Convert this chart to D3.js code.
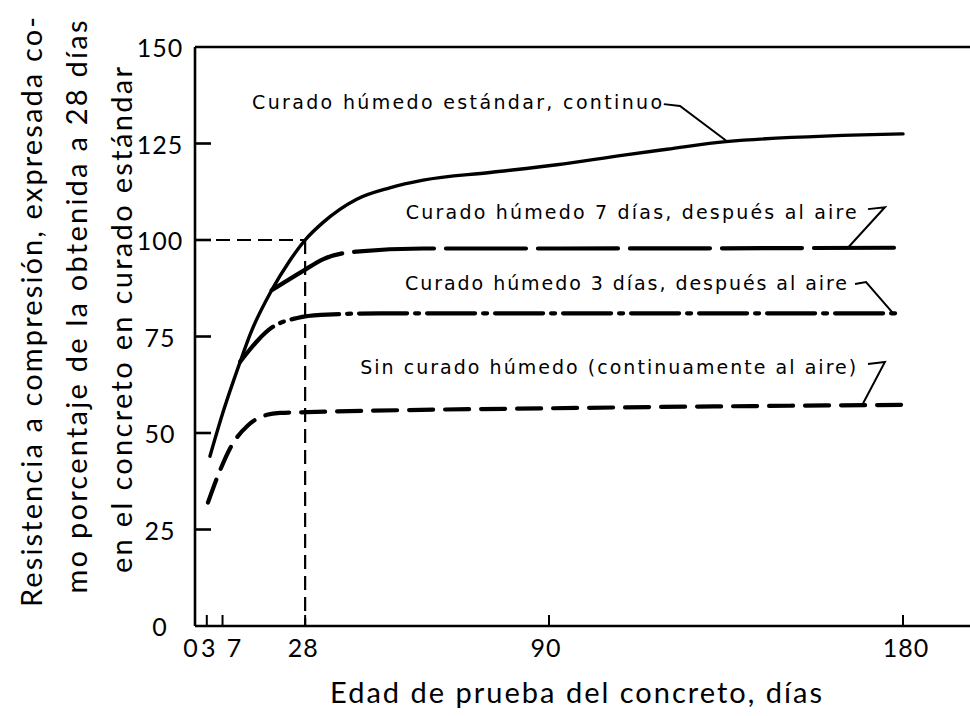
<!DOCTYPE html>
<html>
<head>
<meta charset="utf-8">
<script src="https://cdn.jsdelivr.net/npm/d3@7"></script>
<style>
  body { margin: 0; background: #fff; }
  svg { display: block; }
  text { font-family: "DejaVu Sans", sans-serif; fill: #000; }
  .light { font-family: Lato, "Open Sans", sans-serif; }
</style>
</head>
<body>
<svg id="chart" width="970" height="716"></svg>
<script>
// ---------------- data (age in days, % of 28-day standard strength) ----------------

var stdDays = [3.8, 7, 11.5, 14, 19.5, 24, 28, 32.5, 41, 49.5, 58, 75, 92, 109, 120, 135, 180];
var stdVals = [44, 55, 68.5, 75.5, 87, 94.5, 100, 104.5, 110.5, 113.5, 115.5, 117.5, 119.5, 122, 123.5, 125.5, 127.5];

var moist7Days = [19.5, 27.5, 32.5, 41, 58, 93, 180];
var moist7Vals = [87, 92, 95, 97, 97.8, 97.8, 98];

var moist3Days = [11.5, 19.8, 26, 32, 47, 93, 180];
var moist3Vals = [68.5, 77.5, 79.8, 80.6, 81, 81, 81];

var airDays = [3.3, 6.4, 8.9, 13.5, 18.3, 21.6, 28.5, 98, 180];
var airVals = [32, 40.4, 46, 52, 54.7, 55.2, 55.4, 56.5, 57.3];

var xTicks = [0, 3, 7, 28, 90, 180];
var yTicks = [0, 25, 50, 75, 100, 125, 150];

var refDay = 28;
var refVal = 100;

var seriesNames = [
  "Curado húmedo estándar, continuo",
  "Curado húmedo 7 días, después al aire",
  "Curado húmedo 3 días, después al aire",
  "Sin curado húmedo (continuamente al aire)"
];

var yTitle = [
  "Resistencia a compresión, expresada co-",
  "mo porcentaje de la obtenida a 28 días",
  "en el concreto en curado estándar"
];
var xTitle = "Edad de prueba del concreto, días";

// ---------------- layout ----------------

var width = 970;
var height = 716;
var svg = d3.select('#chart');

var x = d3.scaleLinear().domain([0, 180]).range([195, 903]);
var y = d3.scaleLinear().domain([0, 150]).range([626, 47]);

function pts(days, vals) {
  return days.map(function(d, i){ return [d, vals[i]]; });
}

var line = d3.line()
  .x(d => x(d[0]))
  .y(d => y(d[1]))
  .curve(d3.curveMonotoneX);

// frame: left axis, bottom axis, top border (no right border in the original)
var frame = svg.append('g')
  .attr('stroke', '#000')
  .attr('stroke-width', 2.6)
  .attr('fill', 'none');

frame.append('line').attr('x1', x(0)).attr('x2', x(0)).attr('y1', y(0)).attr('y2', y(150));
frame.append('line').attr('x1', x(0)).attr('x2', width).attr('y1', y(0)).attr('y2', y(0));
frame.append('line').attr('x1', x(0)).attr('x2', width).attr('y1', y(150)).attr('y2', y(150));

// inward ticks
frame.selectAll('.ytick')
  .data(yTicks.filter(v => v > 0 && v < 150))
  .enter().append('line')
    .attr('x1', x(0)).attr('x2', x(0) + 16)
    .attr('y1', d => y(d)).attr('y2', d => y(d));

frame.selectAll('.xtick')
  .data(xTicks.filter(v => v > 0))
  .enter().append('line')
    .attr('stroke-width', 2)
    .attr('x1', d => x(d)).attr('x2', d => x(d))
    .attr('y1', y(0)).attr('y2', y(0) - 11);

// tick labels
svg.append('g').selectAll('text')
  .data(yTicks)
  .enter().append('text')
    .classed('light', true)
    .attr('x', 160)
    .attr('y', d => y(d))
    .attr('text-anchor', 'middle')
    .attr('dominant-baseline', 'central')
    .style('font-size', '25px')
    .style('letter-spacing', '1px')
    .text(d => d);

var xLabelShift = {0: -4, 3: 2, 7: 12, 28: -2, 90: -3, 180: 3};
svg.append('g').selectAll('text')
  .data(xTicks)
  .enter().append('text')
    .classed('light', true)
    .attr('x', d => x(d) + xLabelShift[d])
    .attr('y', 657)
    .attr('text-anchor', 'middle')
    .style('font-size', '25px')
    .style('letter-spacing', '1px')
    .text(d => d);

// axis titles
svg.append('text')
  .classed('light', true)
  .attr('x', 576)
  .attr('y', 703)
  .attr('text-anchor', 'middle')
  .attr('textLength', 492)
  .attr('lengthAdjust', 'spacing')
  .style('font-size', '29px')
  .text(xTitle);

var yTitleX = [42, 87, 132];
var yTitleY = [312, 307, 320];
var yTitleLen = [590, 573, 506];
svg.append('g').selectAll('text')
  .data(yTitle)
  .enter().append('text')
    .classed('light', true)
    .attr('transform', (d, i) => `translate(${yTitleX[i]}, ${yTitleY[i]}) rotate(-90)`)
    .attr('text-anchor', 'middle')
    .attr('textLength', (d, i) => yTitleLen[i])
    .attr('lengthAdjust', 'spacing')
    .style('font-size', '29px')
    .text(d => d);

// 100 % at 28 days reference lines
var ref = svg.append('g')
  .attr('stroke', '#000')
  .attr('stroke-width', 2.2)
  .attr('stroke-dasharray', '14,7')
  .attr('fill', 'none');
ref.append('line').attr('x1', x(0)).attr('x2', x(refDay)).attr('y1', y(refVal)).attr('y2', y(refVal));
ref.append('line').attr('x1', x(refDay)).attr('x2', x(refDay)).attr('y1', y(refVal)).attr('y2', y(0));

// curves
var curves = [
  {data: pts(stdDays, stdVals), dash: null, w: 3.4},
  {data: pts(moist7Days, moist7Vals), dash: '80,12', w: 4.2},
  {data: pts(moist3Days, moist3Vals), dash: '48,8,4,8', w: 4.2},
  {data: pts(airDays, airVals), dash: '24,12', w: 4.2}
];

svg.append('g').selectAll('path')
  .data(curves)
  .enter().append('path')
    .attr('d', d => line(d.data))
    .attr('fill', 'none')
    .attr('stroke', '#000')
    .attr('stroke-width', d => d.w)
    .attr('stroke-linecap', 'round')
    .attr('stroke-dasharray', d => d.dash);

// labels with leaders (positions in data units)
var notes = [
  {day: 14.5, val: 135.8, len: 410, leader: [[119.2, 135.2], [123.3, 134.7], [135.5, 125.4]]},
  {day: 53.6, val: 107.3, len: 451, leader: [[171.1, 108], [175.4, 108.5], [166, 98]]},
  {day: 53.4, val: 88.9, len: 442, leader: [[167.8, 88.6], [170.6, 89.1], [177.5, 81]]},
  {day: 42, val: 67.1, len: 496, leader: [[171.1, 67.9], [175.4, 68.4], [169.6, 57.2]]}
];

var noteG = svg.append('g').selectAll('g')
  .data(notes)
  .enter().append('g');

noteG.append('text')
  .attr('x', d => x(d.day))
  .attr('y', d => y(d.val))
  .attr('dominant-baseline', 'central')
  .attr('textLength', d => d.len)
  .attr('lengthAdjust', 'spacing')
  .style('font-size', '19px')
  .text((d, i) => seriesNames[i]);

noteG.append('path')
  .attr('d', d => d3.line().x(p => x(p[0])).y(p => y(p[1]))(d.leader))
  .attr('fill', 'none')
  .attr('stroke', '#000')
  .attr('stroke-width', 2);
</script>
</body>
</html>
